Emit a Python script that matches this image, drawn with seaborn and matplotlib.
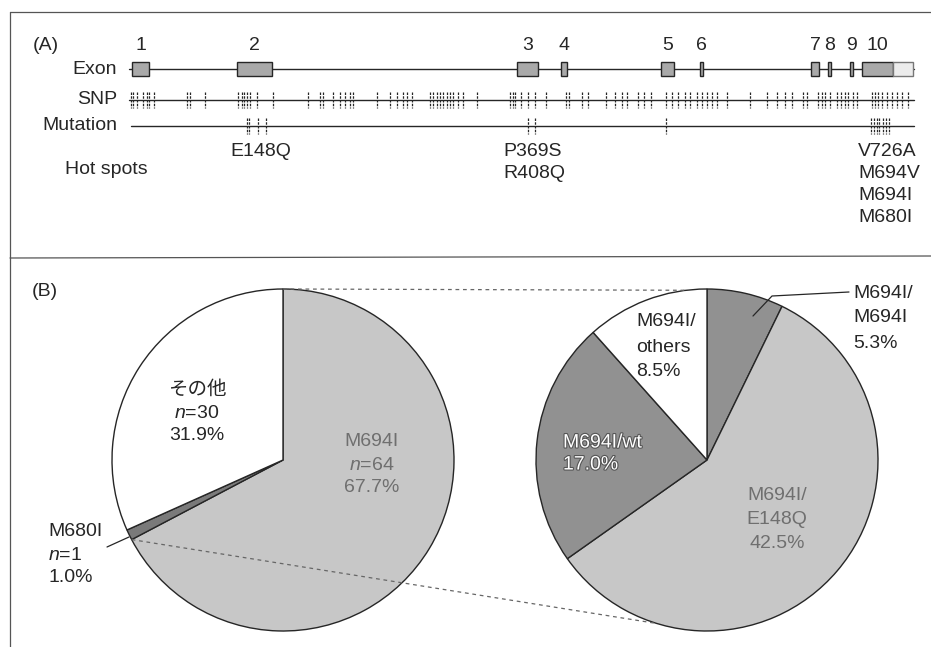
import numpy as np
import matplotlib
matplotlib.use("Agg")
import matplotlib.pyplot as plt
import matplotlib.patheffects as pe
import seaborn as sns

sns.set_theme(style="white")
plt.rcParams["font.family"] = ["Liberation Sans", "Noto Sans CJK JP", "DejaVu Sans"]
plt.rcParams["mathtext.fontset"] = "custom"
plt.rcParams["mathtext.it"] = "Liberation Sans:italic"
plt.rcParams["mathtext.rm"] = "Liberation Sans"

# ---- (A) MEFV gene map: positions along the drawn gene track ----
exon_names = ["1", "2", "3", "4", "5", "6", "7", "8", "9", "10"]
exon_start = [132, 237, 517, 561, 661, 700, 811, 828, 850, 862]
exon_end = [149, 272, 538, 567, 674, 703, 819, 831, 853, 893]
utr_start = [893]
utr_end = [913]
track_start, track_end = 129, 914

snp_pos = [131, 133, 137, 143, 147, 149, 154, 187, 190, 205, 238, 242, 244,
           247, 250, 257, 273, 308, 320, 323, 333, 340, 345, 350, 353, 377,
           390, 397, 403, 407, 412, 430, 433, 437, 440, 443, 447, 450, 453,
           458, 463, 477, 510, 513, 515, 521, 528, 535, 546, 566, 569, 582,
           588, 606, 615, 622, 627, 638, 644, 651, 666, 672, 678, 685, 690,
           697, 702, 707, 712, 717, 727, 750, 767, 777, 785, 792, 803, 807,
           818, 822, 825, 830, 837, 841, 845, 848, 853, 857, 872, 875, 878,
           882, 887, 892, 897, 902, 908]
mutation_pos = [247, 249, 258, 266, 528, 535, 666, 871, 874, 877, 879, 883,
                886, 889]

hotspot_x = [230, 503, 858]
hotspot_names = [["E148Q"], ["P369S", "R408Q"],
                 ["V726A", "M694V", "M694I", "M680I"]]

# ---- (B) mutation frequencies ----
left_names = ["M694I", "M680I", "その他"]
left_n = [64, 1, 30]
left_pct = [67.7, 1.0, 31.9]

right_names = ["M694I/M694I", "M694I/E148Q", "M694I/wt", "M694I/others"]
right_pct = [5.3, 42.5, 17.0, 8.5]

# styling
ink = "#262626"
light = "#c7c7c7"
dark = "#919191"
left_colors = [light, "#7a7a7a", "white"]
right_colors = [dark, light, dark, "white"]
fs = 14

fig = plt.figure(figsize=(9.31, 6.47), dpi=100)
ax = fig.add_axes([0, 0, 1, 1])

# panel frame
ax.plot([10, 931], [12, 12], color="#555555", lw=0.9)
ax.plot([10, 10], [12, 647], color="#555555", lw=0.9)
ax.plot([10, 931], [258, 256], color="#555555", lw=0.9)

# ---- gene map ----
y_exon, y_snp, y_mut = 69, 100, 126
ax.text(33, 45, "(A)", fontsize=fs, color=ink, va="center", ha="left")
for lab, y in [("Exon", y_exon), ("SNP", y_snp), ("Mutation", y_mut)]:
    ax.text(117, y, lab, fontsize=fs, color=ink, va="center", ha="right")

ax.plot([track_start, track_end], [y_exon, y_exon], color=ink, lw=1.0, zorder=2)
ax.plot([track_start, track_end], [y_snp, y_snp], color=ink, lw=1.0, zorder=2)
ax.plot([track_start + 2, track_end], [y_mut, y_mut], color=ink, lw=1.0, zorder=2)

widths = np.array(exon_end) - np.array(exon_start)
ax.bar(exon_start, 14, width=widths, bottom=y_exon - 7, align="edge",
       color="#a9a9a9", edgecolor=ink, linewidth=1.0, zorder=3)
ax.bar(utr_start, 14, width=np.array(utr_end) - np.array(utr_start),
       bottom=y_exon - 7, align="edge", color="#ececec", edgecolor="#777777",
       linewidth=1.0, zorder=3)
for name, s, e in zip(exon_names, exon_start, exon_end):
    ax.text((s + e) / 2, 45, name, fontsize=fs, color=ink, ha="center", va="center")

ax.vlines(snp_pos, y_snp - 8, y_snp + 8, color=ink, lw=0.9,
          linestyles=(0, (2.0, 1.0)), zorder=3)
ax.vlines(mutation_pos, y_mut - 8, y_mut + 8, color=ink, lw=0.9,
          linestyles=(0, (2.0, 1.0)), zorder=3)

ax.text(65, 170, "Hot spots", fontsize=fs, color=ink, va="center", ha="left")
for x, names in zip(hotspot_x, hotspot_names):
    for i, nm in enumerate(names):
        ax.text(x, 152 + 22 * i, nm, fontsize=fs, color=ink, va="center", ha="left")

# ---- pies ----
ax.text(32, 292, "(B)", fontsize=fs, color=ink, va="center", ha="left")
r = 171
c_left = (283, 460)
c_right = (707, 460)
wp = dict(edgecolor=ink, linewidth=1.0)
ax.pie(left_pct, colors=left_colors, startangle=-90, counterclock=True,
       center=c_left, radius=r, wedgeprops=wp)
ax.pie(right_pct, colors=right_colors, startangle=-90, counterclock=True,
       center=c_right, radius=r, wedgeprops=wp)


def on_circle(c, ang):
    a = np.deg2rad(ang)
    return c[0] + r * np.cos(a), c[1] + r * np.sin(a)


# zoom connectors between the M694I slice and the breakdown pie
frac = np.cumsum(left_pct) / np.sum(left_pct)
p_top = on_circle(c_left, -90)
p_edge = on_circle(c_left, -90 + 360 * frac[0])
q_top = on_circle(c_right, -97)
q_bot = on_circle(c_right, 107)
dash = dict(color="#666666", lw=0.9, ls=(0, (3, 3)), zorder=5)
ax.plot([p_top[0], q_top[0]], [p_top[1], q_top[1]], **dash)
ax.plot([p_edge[0], q_bot[0]], [p_edge[1], q_bot[1]], **dash)


def stack(x, y0, lines, dy=23, **kw):
    for i, s in enumerate(lines):
        ax.text(x, y0 + dy * i, s, fontsize=fs, va="center", zorder=6, **kw)


def n_line(n):
    return r"$\it{n}$=" + str(n)


gray_txt = "#6f6f6f"
stack(197, 390, [left_names[2], n_line(left_n[2]), f"{left_pct[2]:.1f}%"],
      color=ink, ha="center")
stack(372, 442, [left_names[0], n_line(left_n[0]), f"{left_pct[0]:.1f}%"],
      color=gray_txt, ha="center")
stack(48, 532, [left_names[1], n_line(left_n[1]), f"{left_pct[1]:.1f}%"],
      color=ink, ha="left")
ax.plot([107, 129], [547, 537], color=ink, lw=0.9, zorder=6)

stack(853, 293, ["M694I/", "M694I", f"{right_pct[0]:.1f}%"], dy=25,
      color=ink, ha="left")
ax.plot([849, 772, 753], [292, 296, 316], color=ink, lw=0.9, zorder=6)
stack(636, 322, ["M694I/", "others", f"{right_pct[3]:.1f}%"], dy=25,
      color=ink, ha="left")
stack(563, 443, ["M694I/wt", f"{right_pct[2]:.1f}%"], dy=22, color="white",
      ha="left", path_effects=[pe.withStroke(linewidth=1.6, foreground="#555555")])
stack(777, 495, ["M694I/", "E148Q", f"{right_pct[1]:.1f}%"], dy=24,
      color=gray_txt, ha="center")

ax.set_xlim(0, 931)
ax.set_ylim(647, 0)
ax.set_aspect("auto")
ax.axis("off")

fig.savefig("out.png", dpi=100, facecolor="white")
